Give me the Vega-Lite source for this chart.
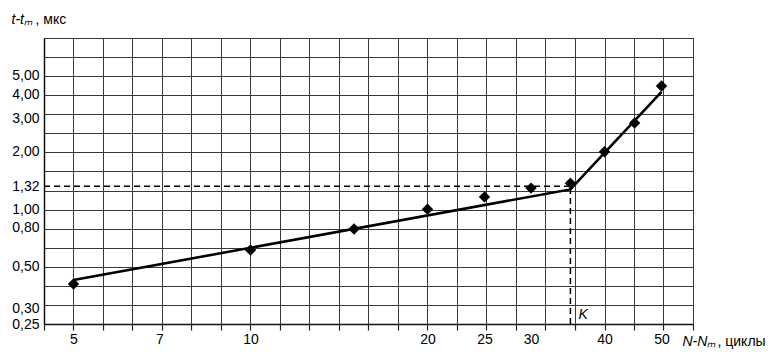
{
  "$schema": "https://vega.github.io/schema/vega-lite/v6.json",
  "width": 649,
  "height": 286,
  "autosize": {"type": "none"},
  "padding": {"left": 44, "top": 38, "right": 85, "bottom": 34},
  "background": "white",
  "config": {
    "view": {"stroke": "#333", "strokeWidth": 1},
    "font": "Liberation Sans",
    "axis": {"labelFont": "Liberation Sans", "titleFont": "Liberation Sans", "labelColor": "black", "titleColor": "black", "labelFontSize": 14, "titleFontSize": 14, "titleFontWeight": "normal"}
  },
  "datasets": {
    "points": [
      {"n": 5, "t": 0.405},
      {"n": 10, "t": 0.611},
      {"n": 15, "t": 0.787},
      {"n": 20, "t": 1.0},
      {"n": 25, "t": 1.16},
      {"n": 30, "t": 1.29},
      {"n": 35, "t": 1.37},
      {"n": 40, "t": 2.0},
      {"n": 45, "t": 2.83},
      {"n": 50, "t": 4.43}
    ],
    "fit": [
      {"n": 5, "t": 0.425},
      {"n": 35, "t": 1.27},
      {"n": 50, "t": 4.12}
    ],
    "guides": [
      {"n1": 4.4545, "n2": 35, "t1": 1.32, "t2": 1.32},
      {"n1": 35, "n2": 35, "t1": 0.25, "t2": 1.32}
    ],
    "notes": [
      {"n": 35, "t": 0.25, "label": "K"}
    ]
  },
  "layer": [
    {
      "data": {"name": "points"},
      "mark": {"type": "point", "shape": "diamond", "filled": true, "color": "black", "size": 130, "opacity": 1},
      "encoding": {
        "x": {"field": "n", "type": "quantitative",
          "scale": {"type": "log", "domain": [4.4545, 56.5685], "nice": false, "zero": false},
          "axis": {"orient": "bottom", "values": [4.4545, 5, 5.6123, 6.2996, 7.0711, 7.937, 8.909, 10, 11.2246, 12.5992, 14.1421, 15.874, 17.818, 20, 22.4492, 25.1984, 28.2843, 31.748, 35.6359, 40, 44.8985, 50.3968, 56.5685],
            "grid": true, "gridColor": "#3a3a3a", "gridWidth": 1, "gridOpacity": 1,
            "labels": false, "ticks": true, "tickSize": 6, "tickColor": "#222", "tickWidth": 1.2,
            "domain": true, "domainColor": "#111", "domainWidth": 1.5, "title": null}},
        "y": {"field": "t", "type": "quantitative",
          "scale": {"type": "log", "domain": [0.25, 7.90569], "nice": false, "zero": false},
          "axis": {"orient": "left", "values": [0.25, 0.31473, 0.39623, 0.49881, 0.62797, 0.79057, 0.99526, 1.25296, 1.57739, 1.98582, 2.5, 3.14731, 3.96226, 4.98816, 6.27971, 7.90569],
            "grid": true, "gridColor": "#3a3a3a", "gridWidth": 1, "gridOpacity": 1,
            "labels": false, "ticks": false, "domain": true, "domainColor": "#111", "domainWidth": 1.5, "title": null}}
      }
    },
    {
      "data": {"name": "fit"},
      "mark": {"type": "line", "color": "black", "strokeWidth": 2.6},
      "encoding": {
        "x": {"field": "n", "type": "quantitative",
          "axis": {"orient": "bottom", "values": [5, 7, 10, 20, 25, 30, 40, 50], "grid": false, "ticks": false, "domain": false,
            "labelPadding": 8, "labelFlush": false, "labelOverlap": false,
            "title": "N-Nₘ", "titleFontStyle": "italic", "titleX": 638, "titleY": 21, "titleAlign": "left", "titleBaseline": "alphabetic", "titleAngle": 0}},
        "y": {"field": "t", "type": "quantitative",
          "axis": {"orient": "left", "values": [0.25, 0.3, 0.5, 0.8, 1.0, 1.32, 2.0, 3.0, 4.0, 5.0], "grid": false, "ticks": false, "domain": false,
            "labelPadding": 5, "labelFlush": false, "labelOverlap": false,
            "labelExpr": "replace(format(datum.value, '.2f'), '.', ',')",
            "title": "t-tₘ", "titleFontStyle": "italic", "titleX": -33, "titleY": -15, "titleAlign": "left", "titleBaseline": "alphabetic", "titleAngle": 0}}
      }
    },
    {
      "data": {"name": "guides"},
      "mark": {"type": "rule", "color": "black", "strokeWidth": 1.5, "strokeDash": [6, 4]},
      "encoding": {
        "x": {"field": "n1", "type": "quantitative",
          "axis": {"orient": "bottom", "labels": false, "ticks": false, "grid": false, "domain": false,
            "title": ", циклы", "titleX": 673, "titleY": 21, "titleAlign": "left", "titleBaseline": "alphabetic", "titleAngle": 0}},
        "x2": {"field": "n2"},
        "y": {"field": "t1", "type": "quantitative",
          "axis": {"orient": "left", "labels": false, "ticks": false, "grid": false, "domain": false,
            "title": ", мкс", "titleX": -9, "titleY": -15, "titleAlign": "left", "titleBaseline": "alphabetic", "titleAngle": 0}},
        "y2": {"field": "t2"}
      }
    },
    {
      "data": {"name": "notes"},
      "mark": {"type": "text", "fontStyle": "italic", "fontSize": 14, "font": "Liberation Sans", "align": "left", "baseline": "alphabetic", "dx": 8, "dy": -5, "color": "black"},
      "encoding": {
        "x": {"field": "n", "type": "quantitative", "axis": null},
        "y": {"field": "t", "type": "quantitative", "axis": null},
        "text": {"field": "label"}
      }
    }
  ],
  "resolve": {"axis": {"x": "independent", "y": "independent"}}
}
